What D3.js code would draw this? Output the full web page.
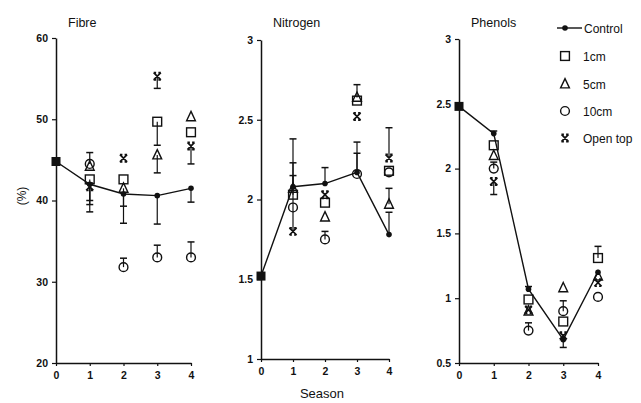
<!DOCTYPE html>
<html lang="en">
<head>
<meta charset="UTF-8">
<title>Fibre, Nitrogen, Phenols</title>
<script src="https://d3js.org/d3.v7.min.js"></script>
<style>
  body { margin: 0; background: #fff; }
  text { font-family: "Liberation Sans", Arial, sans-serif; fill: #111; }
</style>
</head>
<body>
<script>
// Data
const seasons = [0, 1, 2, 3, 4];
const seriesNames = ["Control", "1cm", "5cm", "10cm", "Open top"];

// signed error: positive = bar drawn upwards, negative = downwards
const fibreControl = [44.8, 42.0, 40.8, 40.6, 41.5];
const fibreControlErr = [0, -3.4, -3.6, -3.5, -1.7];
const fibre1cm = [null, 42.6, 42.6, 49.7, 48.4];
const fibre1cmErr = [0, -2.6, 0, -2.9, 0];
const fibre5cm = [null, 44.2, 41.5, 45.6, 50.3];
const fibre5cmErr = [0, 0, -2.2, -2.2, 0];
const fibre10cm = [null, 44.5, 31.8, 33.0, 33.0];
const fibre10cmErr = [0, 1.4, 1.1, 1.5, 1.9];
const fibreOpen = [null, 41.7, 45.2, 55.3, 46.7];
const fibreOpenErr = [0, -2.2, 0, -1.5, -2.2];

const nitroControl = [1.52, 2.08, 2.10, 2.17, 1.78];
const nitroControlErr = [0, 0.15, 0.10, 0.19, 0.14];
const nitro1cm = [null, 2.03, 1.98, 2.62, 2.18];
const nitro1cmErr = [0, 0.35, 0, 0, 0];
const nitro5cm = [null, 2.07, 1.89, 2.64, 1.97];
const nitro5cmErr = [0, 0, 0, 0.08, 0.10];
const nitro10cm = [null, 1.95, 1.75, 2.16, 2.17];
const nitro10cmErr = [0, 0, 0.05, 0.13, 0];
const nitroOpen = [null, 1.80, 2.03, 2.52, 2.26];
const nitroOpenErr = [0, 0.35, 0, 0, 0.19];

const phenControl = [2.48, 2.27, 1.07, 0.68, 1.20];
const phenControlErr = [0, 0.02, 0.02, -0.06, 0];
const phen1cm = [null, 2.18, 0.99, 0.82, 1.31];
const phen1cmErr = [0, 0, 0, 0, 0.09];
const phen5cm = [null, 2.10, 0.90, 1.08, 1.17];
const phen5cmErr = [0, 0, 0, 0, 0];
const phen10cm = [null, 2.00, 0.75, 0.90, 1.01];
const phen10cmErr = [0, 0.05, 0.06, 0.08, 0];
const phenOpen = [null, 1.90, 0.91, 0.71, 1.12];
const phenOpenErr = [0, -0.10, 0, 0, 0];

const fibreTicks = [20, 30, 40, 50, 60];
const nitroTicks = [1, 1.5, 2, 2.5, 3];
const phenTicks = [0.5, 1, 1.5, 2, 2.5, 3];

// Panel layout
const panels = [
  { title: "Fibre", domain: [20, 60], ticks: fibreTicks, fmt: d3.format("d"),
    x0: 56, x1: 191, yTop: 38, yBot: 363,
    values: [fibreControl, fibre1cm, fibre5cm, fibre10cm, fibreOpen],
    errs: [fibreControlErr, fibre1cmErr, fibre5cmErr, fibre10cmErr, fibreOpenErr] },
  { title: "Nitrogen", domain: [1, 3], ticks: nitroTicks, fmt: d => String(d),
    x0: 261, x1: 389, yTop: 40, yBot: 359,
    values: [nitroControl, nitro1cm, nitro5cm, nitro10cm, nitroOpen],
    errs: [nitroControlErr, nitro1cmErr, nitro5cmErr, nitro10cmErr, nitroOpenErr] },
  { title: "Phenols", domain: [0.5, 3], ticks: phenTicks, fmt: d => String(d),
    x0: 459, x1: 598, yTop: 39, yBot: 363,
    values: [phenControl, phen1cm, phen5cm, phen10cm, phenOpen],
    errs: [phenControlErr, phen1cmErr, phen5cmErr, phen10cmErr, phenOpenErr] }
];

const W = 641, H = 403;
const svg = d3.select("body").append("svg").attr("width", W).attr("height", H);

// marker drawing
function drawMarker(g, kind, x, y) {
  const s = 4.4;
  if (kind === "1cm") {
    g.append("rect").attr("x", x - s).attr("y", y - s).attr("width", 2 * s).attr("height", 2 * s)
      .attr("fill", "none").attr("stroke", "#111").attr("stroke-width", 1.4);
  } else if (kind === "5cm") {
    g.append("path")
      .attr("d", `M${x},${y - s - 1}L${x + s},${y + s - 0.5}L${x - s},${y + s - 0.5}Z`)
      .attr("fill", "none").attr("stroke", "#111").attr("stroke-width", 1.4);
  } else if (kind === "10cm") {
    g.append("circle").attr("cx", x).attr("cy", y).attr("r", s)
      .attr("fill", "none").attr("stroke", "#111").attr("stroke-width", 1.4);
  } else if (kind === "Open top") {
    const a = 3.6;
    g.append("path")
      .attr("d", `M${x - a},${y - a}L${x + a},${y + a}M${x + a},${y - a}L${x - a},${y + a}` +
        `M${x - a},${y - a}H${x - a + 2.5}M${x + a},${y - a}H${x + a - 2.5}` +
        `M${x - a},${y + a}H${x - a + 2.5}M${x + a},${y + a}H${x + a - 2.5}`)
      .attr("fill", "none").attr("stroke", "#111").attr("stroke-width", 1.7);
  } else if (kind === "Control") {
    g.append("circle").attr("cx", x).attr("cy", y).attr("r", 2.8).attr("fill", "#111");
  } else if (kind === "start") {
    g.append("rect").attr("x", x - 4.5).attr("y", y - 4.5).attr("width", 9).attr("height", 9)
      .attr("fill", "#111");
  }
}

panels.forEach(p => {
  const x = d3.scaleLinear().domain([0, 4]).range([p.x0, p.x1]);
  const y = d3.scaleLinear().domain(p.domain).range([p.yBot, p.yTop]);
  const g = svg.append("g");

  // y axis
  const ya = g.append("g").attr("transform", `translate(${p.x0},0)`)
    .call(d3.axisLeft(y).tickValues(p.ticks).tickFormat(p.fmt).tickSize(4).tickSizeOuter(0).tickPadding(4));
  ya.select(".domain").attr("stroke", "#111").attr("stroke-width", 1.5);
  ya.selectAll(".tick line").attr("stroke", "#111").attr("stroke-width", 1.2);
  ya.selectAll("text").style("font-size", "10.5px").style("font-weight", "bold")
    .style("font-family", "'Liberation Sans', Arial, sans-serif").attr("fill", "#111");

  // x axis
  const xa = g.append("g").attr("transform", `translate(0,${p.yBot})`)
    .call(d3.axisBottom(x).tickValues(seasons).tickFormat(d3.format("d")).tickSize(3).tickSizeOuter(0).tickPadding(6));
  xa.select(".domain").attr("stroke", "#111").attr("stroke-width", 1.5);
  xa.selectAll(".tick line").attr("stroke", "#111").attr("stroke-width", 1.2);
  xa.selectAll("text").style("font-size", "10.5px").style("font-weight", "bold")
    .style("font-family", "'Liberation Sans', Arial, sans-serif").attr("fill", "#111");

  // title
  g.append("text").attr("x", p.x0 + 12).attr("y", 27).style("font-size", "12.5px").text(p.title);

  // error bars
  p.values.forEach((vals, si) => {
    vals.forEach((v, i) => {
      const e = p.errs[si][i];
      if (v == null || !e) return;
      const yt = y(v + e);
      g.append("line").attr("x1", x(seasons[i])).attr("x2", x(seasons[i]))
        .attr("y1", y(v)).attr("y2", yt).attr("stroke", "#111").attr("stroke-width", 1.2);
      g.append("line").attr("x1", x(seasons[i]) - 3.5).attr("x2", x(seasons[i]) + 3.5)
        .attr("y1", yt).attr("y2", yt).attr("stroke", "#111").attr("stroke-width", 1.5);
    });
  });

  // control line
  const line = d3.line().x((d, i) => x(seasons[i])).y(d => y(d));
  g.append("path").attr("d", line(p.values[0])).attr("fill", "none")
    .attr("stroke", "#111").attr("stroke-width", 1.4);

  // markers
  p.values[0].forEach((v, i) => drawMarker(g, i === 0 ? "start" : "Control", x(seasons[i]), y(v)));
  p.values.slice(1).forEach((vals, k) => {
    vals.forEach((v, i) => {
      if (v == null) return;
      drawMarker(g, seriesNames[k + 1], x(seasons[i]), y(v));
    });
  });
});

// axis titles
svg.append("text").attr("transform", "translate(26,196) rotate(-90)")
  .attr("text-anchor", "middle").style("font-size", "12px").text("(%)");
svg.append("text").attr("x", 322).attr("y", 398).attr("text-anchor", "middle")
  .style("font-size", "13px").text("Season");

// legend
const legendRows = [28, 56, 84, 111, 138];
const lg = svg.append("g");
seriesNames.forEach((name, i) => {
  const yy = legendRows[i];
  if (i === 0) {
    lg.append("line").attr("x1", 557).attr("x2", 582).attr("y1", yy).attr("y2", yy)
      .attr("stroke", "#111").attr("stroke-width", 1.4);
    drawMarker(lg, "Control", 565, yy);
  } else {
    drawMarker(lg, name, 565, yy);
  }
  lg.append("text").attr("x", i === 0 ? 584 : 583).attr("y", yy + 4.5)
    .style("font-size", "12px").text(name);
});
</script>
</body>
</html>
